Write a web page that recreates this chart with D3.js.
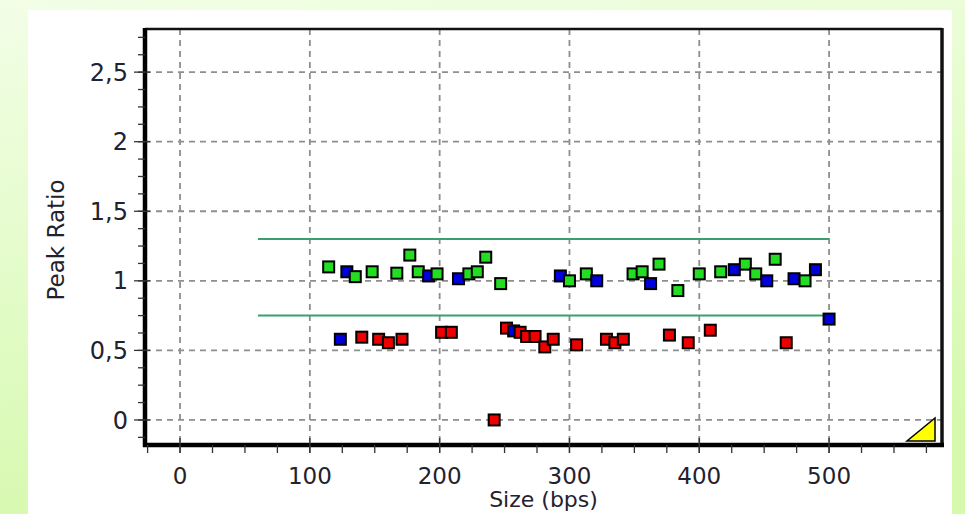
<!DOCTYPE html>
<html>
<head>
<meta charset="utf-8">
<script src="https://cdn.jsdelivr.net/npm/d3@7"></script>
<style>
  html, body { margin: 0; padding: 0; }
  body { width: 965px; height: 514px; overflow: hidden; }
  svg text { font-family: "DejaVu Sans", Verdana, sans-serif; fill: #22222e; }
</style>
</head>
<body>
<svg id="chart" width="965" height="514"></svg>
<script>
// ---- Data ----
const xTicks = [0, 100, 200, 300, 400, 500];
const yTicks = [0, 0.5, 1, 1.5, 2, 2.5];
const yTickLabels = ["0", "0,5", "1", "1,5", "2", "2,5"];
const thresholdsY = [1.3, 0.75];
const thresholdRange = [60, 500];

const greenX = [114.5, 135, 148, 167, 177, 183.5, 198, 222.5, 229, 235.5, 247, 300, 313, 349, 356, 369, 383.5, 400, 416.5, 435.5, 443.5, 458.5, 481.5];
const greenY = [1.10, 1.03, 1.065, 1.055, 1.185, 1.065, 1.05, 1.05, 1.065, 1.17, 0.98, 1.0, 1.05, 1.05, 1.065, 1.12, 0.93, 1.05, 1.065, 1.12, 1.05, 1.155, 1.0];

const blueX = [123.5, 128.5, 191.5, 214.5, 257, 293, 321, 362.5, 427, 452, 473, 489.5, 500];
const blueY = [0.58, 1.065, 1.035, 1.015, 0.64, 1.035, 1.0, 0.98, 1.08, 1.0, 1.015, 1.08, 0.725];

const redX = [140, 153, 160.5, 171, 201.5, 209, 242, 251.5, 262, 267, 273.5, 281, 287.5, 305.5, 328.5, 335, 341.5, 377, 391.5, 408.5, 467];
const redY = [0.595, 0.58, 0.555, 0.58, 0.63, 0.63, 0, 0.66, 0.63, 0.60, 0.60, 0.525, 0.58, 0.54, 0.58, 0.555, 0.58, 0.61, 0.555, 0.645, 0.555];

const seriesColors = { green: "#22dd22", blue: "#0000dd", red: "#ee0000" };

// ---- Setup ----
const svg = d3.select("#chart");
const W = 965, H = 514;

const defs = svg.append("defs");
const grad = defs.append("linearGradient").attr("id", "bg").attr("x1", 0).attr("y1", 0).attr("x2", 0.25).attr("y2", 1);
grad.append("stop").attr("offset", "0%").attr("stop-color", "#f2fee6");
grad.append("stop").attr("offset", "100%").attr("stop-color", "#d6f9ae");
svg.append("rect").attr("width", W).attr("height", H).attr("fill", "url(#bg)");

// white panel
svg.append("rect").attr("x", 28).attr("y", 10).attr("width", 924).attr("height", 510).attr("fill", "#ffffff");

const plot = { left: 145, right: 942, top: 29, bottom: 445 };
const x = d3.scaleLinear().domain([-27, 587]).range([plot.left, plot.right]);
const y = d3.scaleLinear().domain([-0.18, 2.81]).range([plot.bottom, plot.top]);

// grid
const grid = svg.append("g");
grid.selectAll("line.vg").data(xTicks).join("line")
  .attr("x1", d => x(d)).attr("x2", d => x(d))
  .attr("y1", plot.top).attr("y2", plot.bottom)
  .attr("stroke", "#8e8e8e").attr("stroke-width", 1.8).attr("stroke-dasharray", "6,5");
grid.selectAll("line.hg").data(yTicks).join("line")
  .attr("x1", plot.left).attr("x2", plot.right)
  .attr("y1", d => y(d)).attr("y2", d => y(d))
  .attr("stroke", "#8e8e8e").attr("stroke-width", 1.8).attr("stroke-dasharray", "6,5");

// threshold lines
svg.append("g").selectAll("line").data(thresholdsY).join("line")
  .attr("x1", x(thresholdRange[0])).attr("x2", x(thresholdRange[1]))
  .attr("y1", d => y(d)).attr("y2", d => y(d))
  .attr("stroke", "#3a9e72").attr("stroke-width", 2);

// points
const pts = [];
greenX.forEach((v, i) => pts.push({ x: v, y: greenY[i], c: seriesColors.green }));
blueX.forEach((v, i) => pts.push({ x: v, y: blueY[i], c: seriesColors.blue }));
redX.forEach((v, i) => pts.push({ x: v, y: redY[i], c: seriesColors.red }));
pts.sort((a, b) => a.x - b.x);
const s = 11;
svg.append("g").selectAll("rect").data(pts).join("rect")
  .attr("x", d => x(d.x) - s / 2).attr("y", d => y(d.y) - s / 2)
  .attr("width", s).attr("height", s)
  .attr("fill", d => d.c).attr("stroke", "#000").attr("stroke-width", 2);

// frame
svg.append("line").attr("x1", plot.left).attr("x2", plot.right).attr("y1", plot.top).attr("y2", plot.top)
  .attr("stroke", "#111").attr("stroke-width", 2.5);
svg.append("line").attr("x1", plot.right).attr("x2", plot.right).attr("y1", plot.top - 1).attr("y2", plot.bottom)
  .attr("stroke", "#111").attr("stroke-width", 3.5);
svg.append("line").attr("x1", plot.left).attr("x2", plot.left).attr("y1", plot.top - 1).attr("y2", plot.bottom + 2)
  .attr("stroke", "#000").attr("stroke-width", 4.5);
svg.append("line").attr("x1", plot.left - 2).attr("x2", plot.right + 2).attr("y1", plot.bottom).attr("y2", plot.bottom)
  .attr("stroke", "#000").attr("stroke-width", 4.5);

// y axis ticks (minor every 0.125) and labels
const yMinor = d3.range(-0.125, 2.81, 0.125);
svg.append("g").selectAll("line").data(yMinor).join("line")
  .attr("x1", plot.left - 7).attr("x2", plot.left)
  .attr("y1", d => y(d)).attr("y2", d => y(d))
  .attr("stroke", "#333").attr("stroke-width", 1.3);
svg.append("g").selectAll("line").data(yTicks).join("line")
  .attr("x1", plot.left - 11).attr("x2", plot.left + 5)
  .attr("y1", d => y(d)).attr("y2", d => y(d))
  .attr("stroke", "#333").attr("stroke-width", 1.3);
svg.append("g").selectAll("text").data(yTicks).join("text")
  .attr("x", 128).attr("y", d => y(d)).attr("dy", "0.36em")
  .attr("text-anchor", "end").attr("font-size", 24)
  .text((d, i) => yTickLabels[i]);

// x axis ticks (minor every 25) and labels
const xMinor = d3.range(-25, 587, 25);
svg.append("g").selectAll("line").data(xMinor).join("line")
  .attr("x1", d => x(d)).attr("x2", d => x(d))
  .attr("y1", plot.bottom).attr("y2", plot.bottom + 8)
  .attr("stroke", "#333").attr("stroke-width", 1.3);
svg.append("g").selectAll("line").data(xTicks).join("line")
  .attr("x1", d => x(d)).attr("x2", d => x(d))
  .attr("y1", plot.bottom - 7).attr("y2", plot.bottom + 8)
  .attr("stroke", "#333").attr("stroke-width", 1.3);
svg.append("g").selectAll("text").data(xTicks).join("text")
  .attr("x", d => x(d)).attr("y", 484)
  .attr("text-anchor", "middle").attr("font-size", 23)
  .text(d => d);

// axis titles
svg.append("text").attr("x", (plot.left + plot.right) / 2).attr("y", 507)
  .attr("text-anchor", "middle").attr("font-size", 22).text("Size (bps)");
svg.append("text").attr("transform", "translate(64,240) rotate(-90)")
  .attr("text-anchor", "middle").attr("font-size", 23).text("Peak Ratio");

// yellow corner marker
svg.append("polygon")
  .attr("points", `${plot.right - 35},${plot.bottom - 4} ${plot.right - 7},${plot.bottom - 4} ${plot.right - 7},${plot.bottom - 27}`)
  .attr("fill", "#ffff00").attr("stroke", "#000").attr("stroke-width", 1.5);
</script>
</body>
</html>
